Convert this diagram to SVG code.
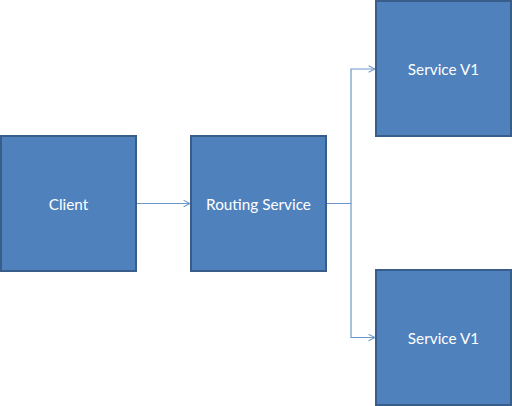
<svg xmlns="http://www.w3.org/2000/svg" width="512" height="406" viewBox="0 0 512 406">
<style>
.box{fill:#4F81BD;stroke:#385D8A;stroke-width:2}
.lbl{fill:#FFFFFF;font-family:Lato,"Open Sans","Liberation Sans",sans-serif;font-size:15.3px;text-anchor:middle;dominant-baseline:central}
.conn{fill:none;stroke:#6E97CC;stroke-width:1.2}
</style>
<defs>
<marker id="arr" viewBox="0 0 10 10" refX="9" refY="5" markerWidth="8" markerHeight="8" markerUnits="userSpaceOnUse" orient="auto">
<path d="M1,1 L9,5 L1,9" fill="none" stroke="#6E97CC" stroke-width="1.3"/>
</marker>
</defs>
<rect width="512" height="406" fill="#FFFFFF"/>
<g id="connectors">
<path class="conn" d="M136,203.5 H190" marker-end="url(#arr)"/>
<path class="conn" d="M326,203.5 H351 V69 H375" marker-end="url(#arr)"/>
<path class="conn" d="M351,203.5 V337.5 H375" marker-end="url(#arr)"/>
</g>
<g id="client">
<rect class="box" x="1" y="136" width="135" height="135"/>
<text class="lbl" x="68.5" y="203.5">Client</text>
</g>
<g id="routing">
<rect class="box" x="191" y="136" width="135" height="135"/>
<text class="lbl" x="258.5" y="203.5">Routing Service</text>
</g>
<g id="servicev1-top">
<rect class="box" x="376" y="1" width="135" height="135"/>
<text class="lbl" x="443.5" y="68.5">Service V1</text>
</g>
<g id="servicev1-bottom">
<rect class="box" x="376" y="270" width="135" height="135"/>
<text class="lbl" x="443.5" y="337.5">Service V1</text>
</g>
</svg>
